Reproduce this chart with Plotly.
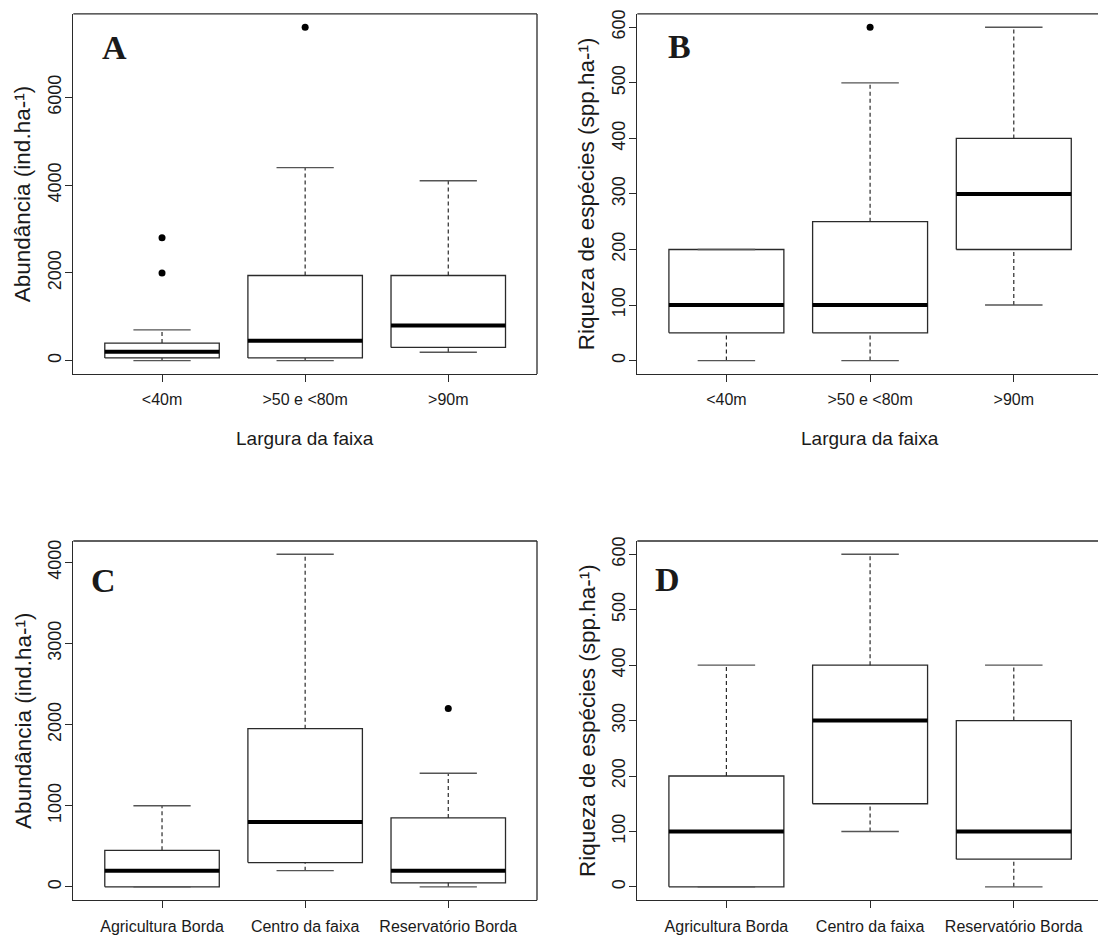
import plotly.graph_objects as go

# ---------------- data ----------------
W_CATS = ["<40m", ">50 e <80m", ">90m"]
P_CATS = ["Agricultura Borda", "Centro da faixa", "Reservatório Borda"]

# Panel A: Abundância by Largura da faixa
A_low = [0, 0, 190]
A_q1 = [60, 60, 300]
A_med = [200, 450, 800]
A_q3 = [400, 1940, 1940]
A_high = [700, 4400, 4100]
A_out_cat = ["<40m", "<40m", ">50 e <80m"]
A_out_val = [2000, 2800, 7600]

# Panel B: Riqueza by Largura da faixa
B_low = [0, 0, 100]
B_q1 = [50, 50, 200]
B_med = [100, 100, 300]
B_q3 = [200, 250, 400]
B_high = [200, 500, 600]
B_out_cat = [">50 e <80m"]
B_out_val = [600]

# Panel C: Abundância by position
C_low = [0, 200, 0]
C_q1 = [0, 300, 50]
C_med = [200, 800, 200]
C_q3 = [450, 1950, 850]
C_high = [1000, 4100, 1400]
C_out_cat = ["Reservatório Borda"]
C_out_val = [2200]

# Panel D: Riqueza by position
D_low = [0, 100, 0]
D_q1 = [0, 150, 50]
D_med = [100, 300, 100]
D_q3 = [200, 400, 300]
D_high = [400, 600, 400]
D_out_cat = []
D_out_val = []

A_TICKS = [0, 2000, 4000, 6000]
B_TICKS = [0, 100, 200, 300, 400, 500, 600]
C_TICKS = [0, 1000, 2000, 3000, 4000]
D_TICKS = [0, 100, 200, 300, 400, 500, 600]

YLAB_ABUND = "Abundância (ind.ha-¹)"
YLAB_RIQ = "Riqueza de espécies (spp.ha-¹)"
XLAB = "Largura da faixa"

# ---------------- style ----------------
W, H = 1098, 940
FONT = "Liberation Sans, Arial, sans-serif"
LINE = "#2a2a2a"
HALF = 0.4      # half box width (boxwex 0.8)
CAP = 0.2       # half staple width

fig = go.Figure()

panels = [
    dict(name="A", cats=W_CATS, low=A_low, q1=A_q1, med=A_med, q3=A_q3, high=A_high,
         oc=A_out_cat, ov=A_out_val, ticks=A_TICKS, ylab=YLAB_ABUND, xlab=XLAB,
         ax="", dom_x=[73.3, 537.0], dom_y=[10, 371.5], cut=False, letter_off=(41, 34)),
    dict(name="B", cats=W_CATS, low=B_low, q1=B_q1, med=B_med, q3=B_q3, high=B_high,
         oc=B_out_cat, ov=B_out_val, ticks=B_TICKS, ylab=YLAB_RIQ, xlab=XLAB,
         ax="2", dom_x=[637.3, 1098.0], dom_y=[10, 371.5], cut=True, letter_off=(42, 33)),
    dict(name="C", cats=P_CATS, low=C_low, q1=C_q1, med=C_med, q3=C_q3, high=C_high,
         oc=C_out_cat, ov=C_out_val, ticks=C_TICKS, ylab=YLAB_ABUND, xlab=None,
         ax="3", dom_x=[73.3, 537.0], dom_y=[539.3, 900], cut=False, letter_off=(30, 39)),
    dict(name="D", cats=P_CATS, low=D_low, q1=D_q1, med=D_med, q3=D_q3, high=D_high,
         oc=D_out_cat, ov=D_out_val, ticks=D_TICKS, ylab=YLAB_RIQ, xlab=None,
         ax="4", dom_x=[637.3, 1098.0], dom_y=[539.3, 900], cut=True, letter_off=(30, 38)),
]

UNIT_B = 143.7
shapes = []
annotations = []
layout_axes = {}

for p in panels:
    xa = "x" + p["ax"]
    ya = "y" + p["ax"]
    n = len(p["cats"])
    pos = list(range(1, n + 1))

    # boxes
    bx, by = [], []
    for i in range(n):
        x0, x1 = pos[i] - HALF, pos[i] + HALF
        bx += [x0, x1, x1, x0, x0, None]
        by += [p["q1"][i], p["q1"][i], p["q3"][i], p["q3"][i], p["q1"][i], None]
    fig.add_trace(go.Scatter(x=bx, y=by, mode="lines", xaxis=xa, yaxis=ya,
                             line=dict(color=LINE, width=1.3), hoverinfo="skip"))
    # whiskers (dashed)
    wx, wy = [], []
    for i in range(n):
        wx += [pos[i], pos[i], None, pos[i], pos[i], None]
        wy += [p["q3"][i], p["high"][i], None, p["low"][i], p["q1"][i], None]
    fig.add_trace(go.Scatter(x=wx, y=wy, mode="lines", xaxis=xa, yaxis=ya,
                             line=dict(color=LINE, width=1.2, dash="4px,3px"), hoverinfo="skip"))
    # staples
    sx, sy = [], []
    for i in range(n):
        sx += [pos[i] - CAP, pos[i] + CAP, None, pos[i] - CAP, pos[i] + CAP, None]
        sy += [p["high"][i], p["high"][i], None, p["low"][i], p["low"][i], None]
    fig.add_trace(go.Scatter(x=sx, y=sy, mode="lines", xaxis=xa, yaxis=ya,
                             line=dict(color="#555555", width=1.4), hoverinfo="skip"))
    # medians
    mx, my = [], []
    for i in range(n):
        mx += [pos[i] - HALF, pos[i] + HALF, None]
        my += [p["med"][i], p["med"][i], None]
    fig.add_trace(go.Scatter(x=mx, y=my, mode="lines", xaxis=xa, yaxis=ya,
                             line=dict(color="black", width=4), hoverinfo="skip"))
    # outliers
    if p["oc"]:
        ox = [p["cats"].index(c) + 1 for c in p["oc"]]
        fig.add_trace(go.Scatter(x=ox, y=p["ov"], mode="markers", xaxis=xa, yaxis=ya,
                                 marker=dict(color="black", size=7), hoverinfo="skip"))

    # ranges
    allv = p["low"] + p["high"] + p["ov"]
    lo, hi = min(allv), max(allv)
    pad = 0.04 * (hi - lo)
    yr = [lo - pad, hi + pad]
    if p["cut"]:
        xr = [0.38, 0.38 + (p["dom_x"][1] - p["dom_x"][0]) / UNIT_B]
    else:
        xr = [0.38, n + 0.62]

    dx = [p["dom_x"][0] / W, p["dom_x"][1] / W]
    dy = [1 - p["dom_y"][1] / H, 1 - p["dom_y"][0] / H]

    layout_axes["xaxis" + p["ax"]] = dict(
        domain=dx, range=xr, anchor=ya, tickmode="array", tickvals=pos, ticktext=p["cats"],
        showgrid=False, zeroline=False, showline=True, linecolor=LINE, linewidth=1.3,
        ticks="outside", ticklen=7, tickwidth=1.2, tickcolor=LINE,
        tickfont=dict(family=FONT, size=16, color="#1a1a1a"), ticklabelstandoff=4,
        fixedrange=True)
    layout_axes["yaxis" + p["ax"]] = dict(
        domain=dy, range=yr, anchor=xa, tickmode="array", tickvals=p["ticks"],
        ticktext=[str(t) for t in p["ticks"]],
        showgrid=False, zeroline=False, showline=True, linecolor=LINE, linewidth=1.3,
        ticks="outside", ticklen=7, tickwidth=1.2, tickcolor=LINE, tickangle=-90,
        tickfont=dict(family=FONT, size=18, color="#1a1a1a"), ticklabelstandoff=-3,
        fixedrange=True)

    # frame: top (and right for non-cut panels)
    shapes.append(dict(type="line", xref=xa + " domain", yref=ya + " domain",
                       x0=0, x1=1, y0=1, y1=1, line=dict(color=LINE, width=1.3)))
    if not p["cut"]:
        shapes.append(dict(type="line", xref=xa + " domain", yref=ya + " domain",
                           x0=1, x1=1, y0=0, y1=1, line=dict(color=LINE, width=1.3)))

    # panel letter
    annotations.append(dict(text=p["name"], xref=xa + " domain", yref=ya + " domain",
                            x=0, y=1, xshift=p["letter_off"][0], yshift=-p["letter_off"][1],
                            xanchor="center", yanchor="middle", showarrow=False,
                            font=dict(family="Liberation Serif, Times New Roman, serif",
                                      size=34, color="#1a1a1a", weight="bold")))
    # y-axis title
    annotations.append(dict(text=p["ylab"], xref="paper", yref=ya + " domain",
                            x=(p["dom_x"][0] - 50) / W, y=0.5, textangle=-90,
                            xanchor="center", yanchor="middle", showarrow=False,
                            font=dict(family=FONT, size=22.5, color="#1a1a1a")))
    # x-axis title
    if p["xlab"]:
        annotations.append(dict(text=p["xlab"], xref=xa, yref="paper",
                                x=2, y=1 - 436.7 / H, xanchor="center", yanchor="middle",
                                showarrow=False,
                                font=dict(family=FONT, size=19, color="#1a1a1a")))

fig.update_layout(
    width=W, height=H, margin=dict(l=0, r=0, t=0, b=0),
    paper_bgcolor="white", plot_bgcolor="white", showlegend=False,
    shapes=shapes, annotations=annotations, **layout_axes)

fig.write_html("out.html")
